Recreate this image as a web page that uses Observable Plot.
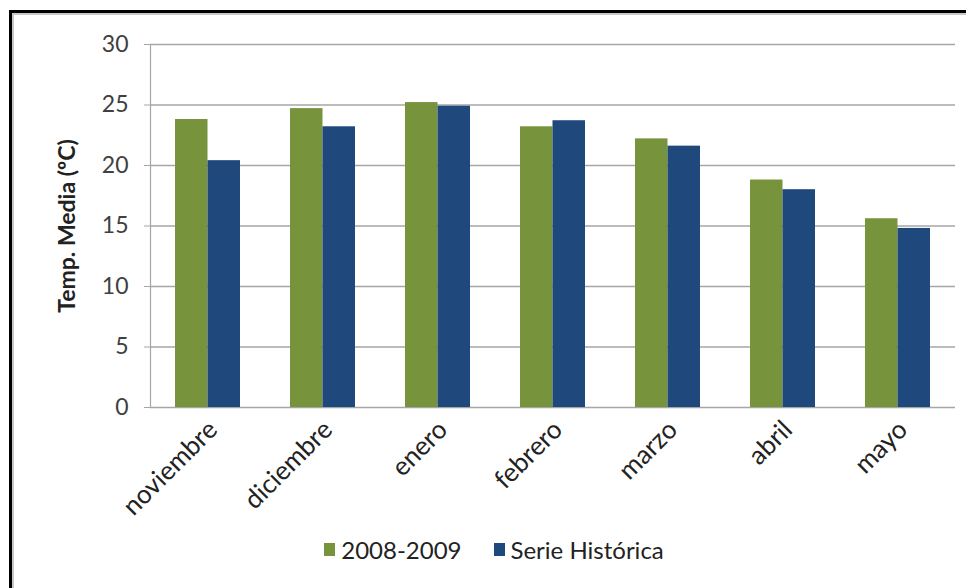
<!DOCTYPE html>
<html>
<head>
<meta charset="utf-8">
<script src="https://cdn.jsdelivr.net/npm/d3@7"></script>
<script src="https://cdn.jsdelivr.net/npm/@observablehq/plot@0.6"></script>
<style>
  html, body { margin: 0; padding: 0; background: #fff; }
  body { width: 966px; height: 588px; position: relative; overflow: hidden; font-family: Lato, "Open Sans", sans-serif; }
  #frame { position: absolute; left: 9px; top: 10px; width: 1000px; height: 700px; border-left: 3px solid #000; border-top: 3px solid #000; box-shadow: inset 2px 2px 0 #c8c8c8; pointer-events: none; }
  #chart { position: absolute; left: 0; top: 0; }
  #legend { position: absolute; top: 535px; left: 0; width: 988px; display: flex; justify-content: center; gap: 32px; font-size: 24px; color: #222; }
  #legend span.item { display: flex; align-items: center; gap: 6px; }
  #legend span.sw { display: inline-block; width: 11px; height: 13px; }
</style>
</head>
<body>
<div id="chart"></div>
<div id="legend"></div>
<div id="frame"></div>
<script>
const months = ["noviembre", "diciembre", "enero", "febrero", "marzo", "abril", "mayo"];
const series = ["2008-2009", "Serie Histórica"];
const v2008 = [23.8, 24.7, 25.2, 23.2, 22.2, 18.8, 15.6];
const vHist = [20.4, 23.2, 24.9, 23.7, 21.6, 18.0, 14.8];
const yTicks = [0, 5, 10, 15, 20, 25, 30];
const colors = ["#77933c", "#1f497d"];

const W = 966, H = 520;
const mL = 150, mR = 11, mT = 44, mB = H - 407;
const band = (W - mL - mR) / months.length;
const outer = 25, barW = 32.5;

const d2008 = months.map((m, i) => ({month: m, value: v2008[i]}));
const dHist = months.map((m, i) => ({month: m, value: vHist[i]}));

const chart = Plot.plot({
  width: W,
  height: H,
  marginLeft: mL,
  marginRight: mR,
  marginTop: mT,
  marginBottom: mB,
  style: {fontFamily: "Lato, 'Open Sans', sans-serif", background: "transparent"},
  x: {domain: months, padding: 0, label: null},
  y: {domain: [0, 30], label: null},
  marks: [
    Plot.ruleY(yTicks, {stroke: "#a6a6a6", strokeWidth: 1.6}),
    Plot.ruleX([months[0]], {y1: 0, y2: 30, dx: -band / 2, stroke: "#a6a6a6", strokeWidth: 1.2}),
    Plot.barY(d2008, {x: "month", y: "value", fill: colors[0], insetLeft: outer, insetRight: band - outer - barW}),
    Plot.barY(dHist, {x: "month", y: "value", fill: colors[1], insetLeft: outer + barW, insetRight: band - outer - 2 * barW}),
    Plot.axisY({ticks: yTicks, tickSize: 6, tickPadding: 16, fontSize: 23, stroke: "#a6a6a6", color: "#404040", label: null}),
    Plot.axisX({tickSize: 0, tickRotate: -45, tickPadding: 18, dx: 5, fontSize: 26, color: "#222", label: null}),
    Plot.text(["Temp. Media (ºC)"], {frameAnchor: "left", textAnchor: "middle", dx: -83, rotate: -90, fontSize: 23, fontWeight: "bold", fill: "#222"})
  ]
});
document.getElementById("chart").append(chart);

const legend = document.getElementById("legend");
series.forEach((s, i) => {
  const item = document.createElement("span");
  item.className = "item";
  const sw = document.createElement("span");
  sw.className = "sw";
  sw.style.background = colors[i];
  item.append(sw, document.createTextNode(s));
  legend.append(item);
});
</script>
</body>
</html>
